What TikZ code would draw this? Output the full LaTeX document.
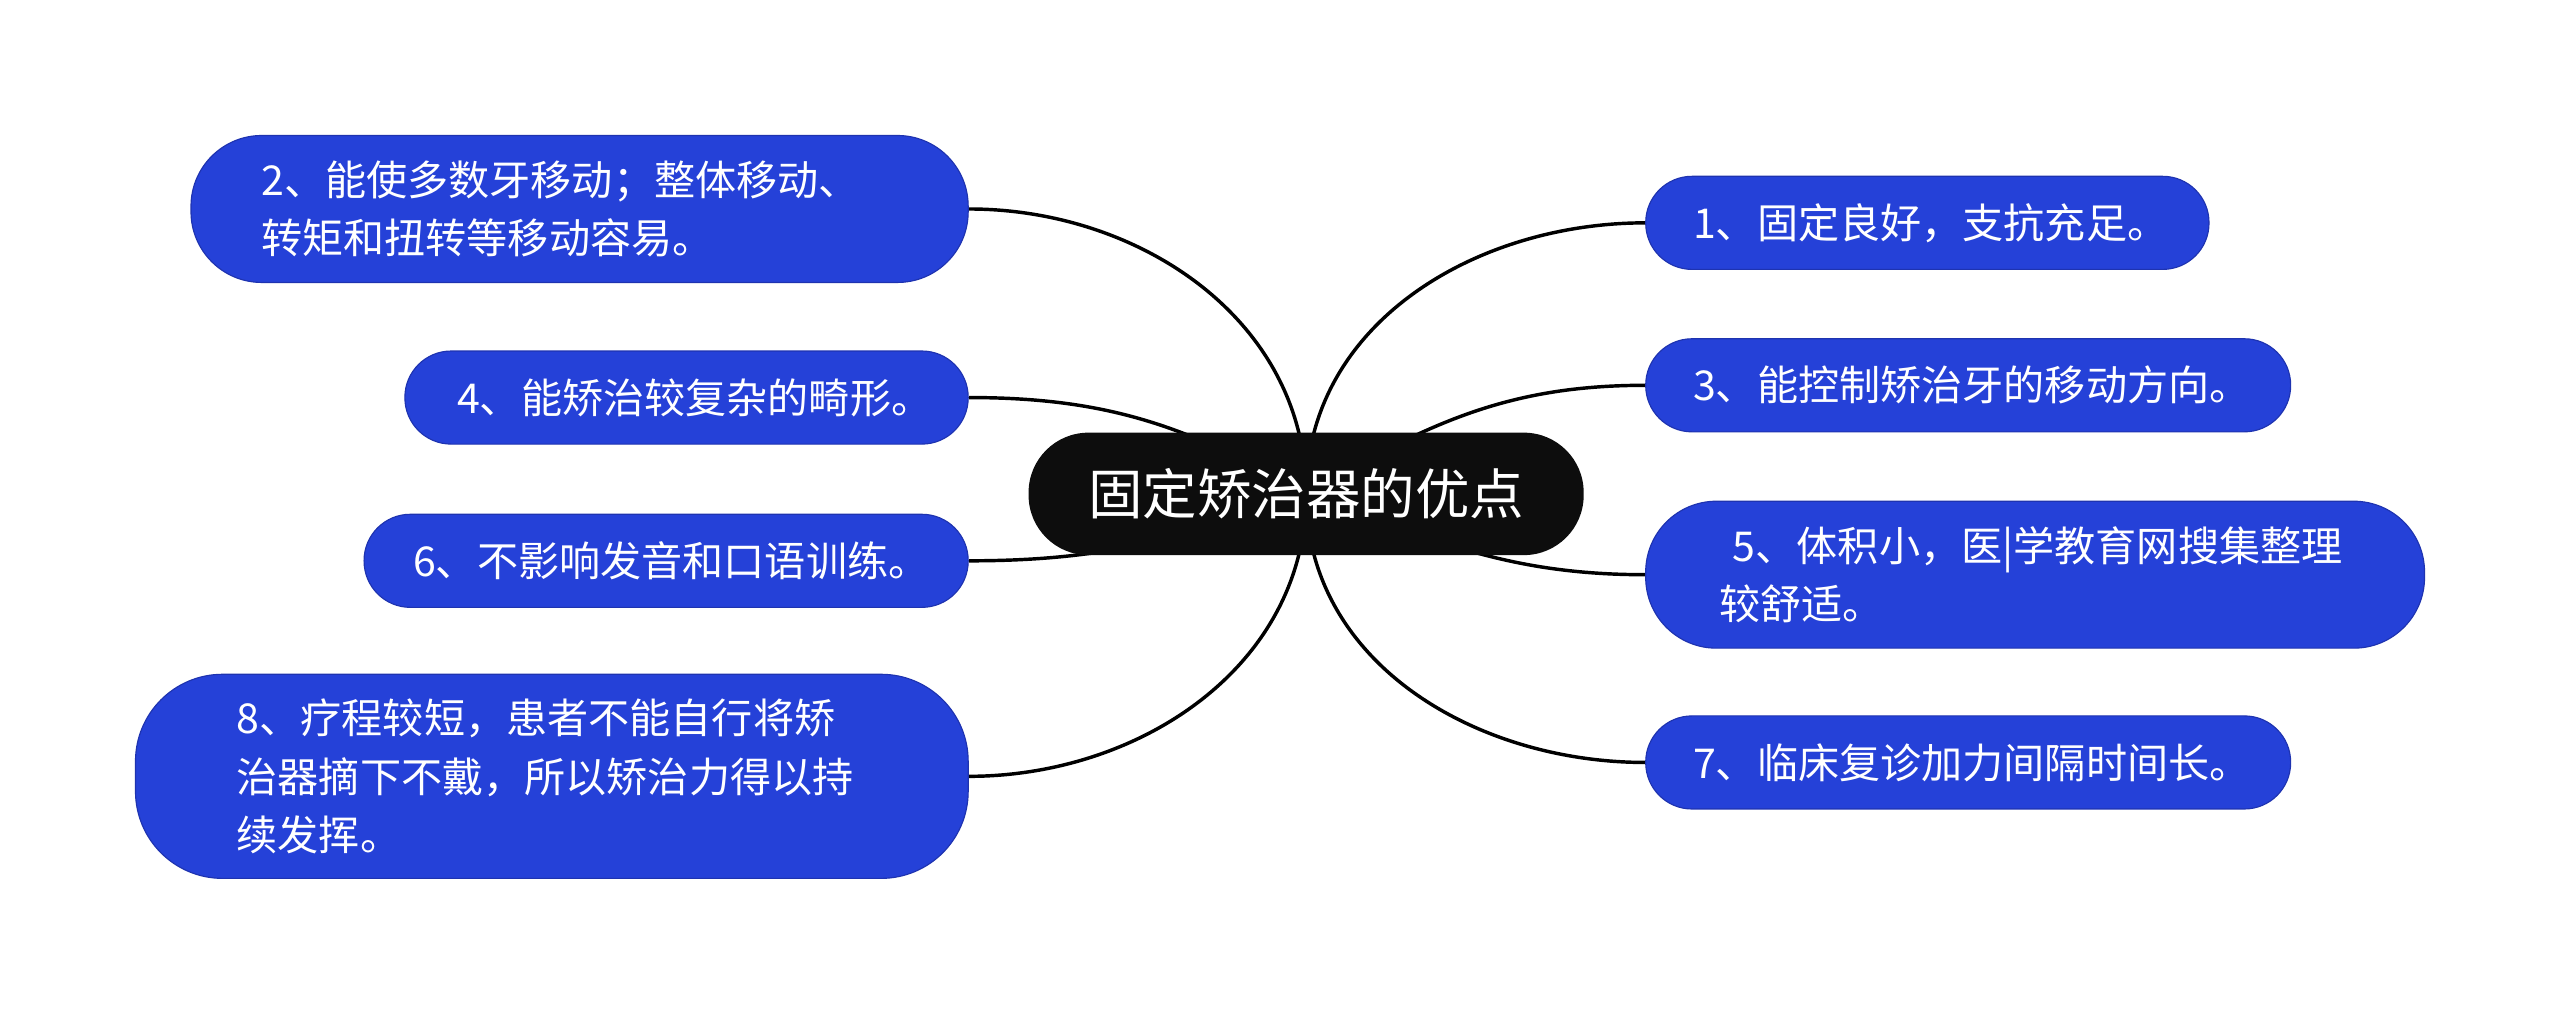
\documentclass[tikz,border=0pt]{standalone}
\usepackage{fontspec}
\setmainfont{Noto Sans CJK SC}
\begin{document}
\begin{tikzpicture}[x=0.03cm,y=-0.03cm,
  leaf/.style={fill=blue1,draw=blue2,line width=0.6pt,text=white,inner sep=0pt,align=left,font=\fontsize{21.5}{30.5}\selectfont},
  conn/.style={line width=1.8pt,black}]
\definecolor{blue1}{HTML}{2541D8}
\definecolor{blue2}{HTML}{1E33B0}
\pgfdeclarelayer{bg}\pgfsetlayers{bg,main}
\useasboundingbox (0,0) rectangle (1568,621);
\node[fill=black!95,text=white,rounded corners=1.1cm,minimum width=10.2cm,minimum height=2.25cm,font=\fontsize{28.5}{32}\selectfont] (c) at (800,302.5) {固定矫治器的优点};
\node[leaf,rounded corners=1.3cm,minimum width=14.28cm,minimum height=2.7cm,text width=11.7cm] (n2) at (355,128) {2、能使多数牙移动；整体移动、\\转矩和扭转等移动容易。};
\node[leaf,rounded corners=0.85cm,minimum width=10.35cm,minimum height=1.71cm,text width=8.43cm] (n4) at (420.5,243.5) {4、能矫治较复杂的畸形。};
\node[leaf,rounded corners=0.85cm,minimum width=11.1cm,minimum height=1.71cm,text width=9.3cm] (n6) at (408,343.5) {6、不影响发音和口语训练。};
\node[leaf,rounded corners=1.6cm,minimum width=15.3cm,minimum height=3.75cm,text width=11.58cm] (n8) at (338,475.5) {8、疗程较短，患者不能自行将矫\\治器摘下不戴，所以矫治力得以持\\续发挥。};
\node[leaf,rounded corners=0.85cm,minimum width=10.35cm,minimum height=1.71cm,text width=8.61cm] (n1) at (1180.5,136.5) {1、固定良好，支抗充足。};
\node[leaf,rounded corners=0.85cm,minimum width=11.85cm,minimum height=1.71cm,text width=10.11cm] (n3) at (1205.5,236) {3、能控制矫治牙的移动方向。};
\node[leaf,rounded corners=1.3cm,minimum width=14.31cm,minimum height=2.7cm,text width=11.61cm] (n5) at (1246.5,352) {\ 5、体积小，医|学教育网搜集整理\\较舒适。};
\node[leaf,rounded corners=0.85cm,minimum width=11.85cm,minimum height=1.71cm,text width=10.11cm] (n7) at (1205.5,467) {7、临床复诊加力间隔时间长。};
\begin{pgfonlayer}{bg}
\draw[conn] (c.center) to[out=90,in=0] (n2.east);
\draw[conn] (c.center) to[out=150,in=0] (n4.east);
\draw[conn] (c.center) to[out=200,in=0] (n6.east);
\draw[conn] (c.center) to[out=270,in=0] (n8.east);
\draw[conn] (c.center) to[out=90,in=180] (n1.west);
\draw[conn] (c.center) to[out=30,in=180] (n3.west);
\draw[conn] (c.center) to[out=-20,in=180] (n5.west);
\draw[conn] (c.center) to[out=270,in=180] (n7.west);
\end{pgfonlayer}
\end{tikzpicture}
\end{document}
